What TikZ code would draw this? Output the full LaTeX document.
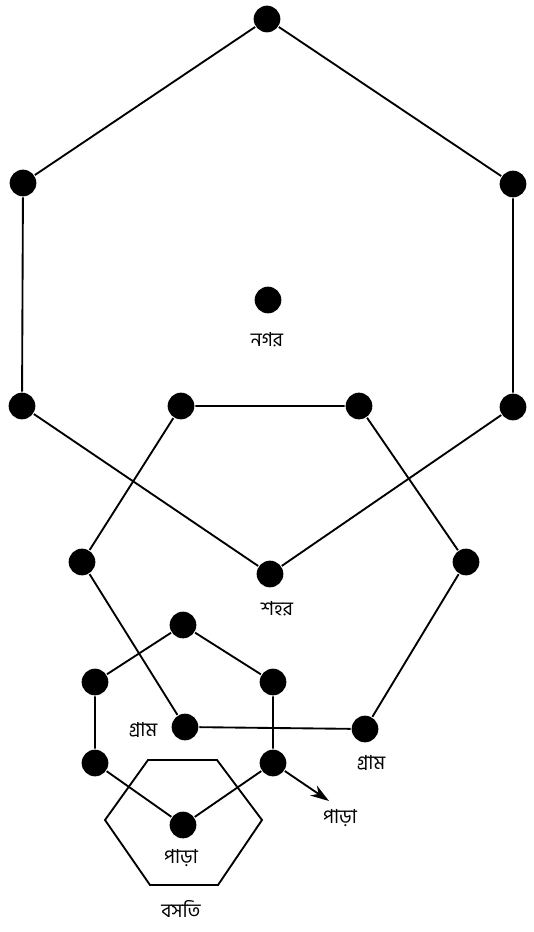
\documentclass[tikz,border=0pt]{standalone}
\usepackage{fontspec}
\newfontfamily\bnfont[Script=Bengali]{Hind Siliguri}
\usetikzlibrary{arrows.meta, positioning}

\begin{document}
\begin{tikzpicture}[
    x=0.75pt, y=-0.75pt,
    line width=1.4pt,
    dot/.style={circle, fill, inner sep=0pt, minimum size=20pt},
    lbl/.style={font=\bnfont\fontsize{14.5}{16}\selectfont, inner sep=1pt},
    pointer/.style={-{Stealth[length=14pt, width=9pt]}}
]
\useasboundingbox (0,0) rectangle (534,932);

% nagar
\node[dot] (n1) at (267,19) {};
\node[dot] (n2) at (23,183) {};
\node[dot] (n3) at (513,184) {};
\node[dot] (n4) at (22,406) {};
\node[dot] (n5) at (513,407) {};
\node[dot] (n6) at (270,574) {};
\node[dot] (nc) at (268,300) {};
\node[lbl] (nlbl) at (267,340) {নগর};

% shahar
\node[dot] (s1) at (181,406) {};
\node[dot] (s2) at (359,406) {};
\node[dot] (s3) at (466,562) {};
\node[dot] (s4) at (365,729) {};
\node[dot] (s5) at (185,727) {};
\node[dot] (s6) at (82,562) {};
\node[lbl] (slbl) at (277,609) {শহর};

% gram
\node[dot] (g1) at (183,625) {};
\node[dot] (g2) at (273,682) {};
\node[dot] (g3) at (273,763) {};
\node[dot] (g4) at (183,825) {};
\node[dot] (g5) at (95,763) {};
\node[dot] (g6) at (95,682) {};
\node[lbl] (glbl1) at (143,730) {গ্রাম};
\node[lbl] (glbl2) at (371,763) {গ্রাম};

% para
\coordinate (p1) at (148,760);
\coordinate (p2) at (217,760);
\coordinate (p3) at (262,820);
\coordinate (p4) at (218,885);
\coordinate (p5) at (150,885);
\coordinate (p6) at (105,820);
\coordinate (ptip) at (329,801);
\node[lbl] (plbl1) at (181,858) {পাড়া};
\node[lbl] (plbl2) at (340,818) {পাড়া};
\node[lbl] (blbl) at (181,909) {বসতি};

\draw (n1) -- (n3) -- (n5) -- (n6) -- (n4) -- (n2) -- (n1);
\draw (s1) -- (s2) -- (s3) -- (s4) -- (s5) -- (s6) -- (s1);
\draw (g1) -- (g2) -- (g3) -- (g4) -- (g5) -- (g6) -- (g1);
\draw (p1) -- (p2) -- (p3) -- (p4) -- (p5) -- (p6) -- cycle;
\draw[pointer] (g3) -- (ptip);
\end{tikzpicture}
\end{document}
